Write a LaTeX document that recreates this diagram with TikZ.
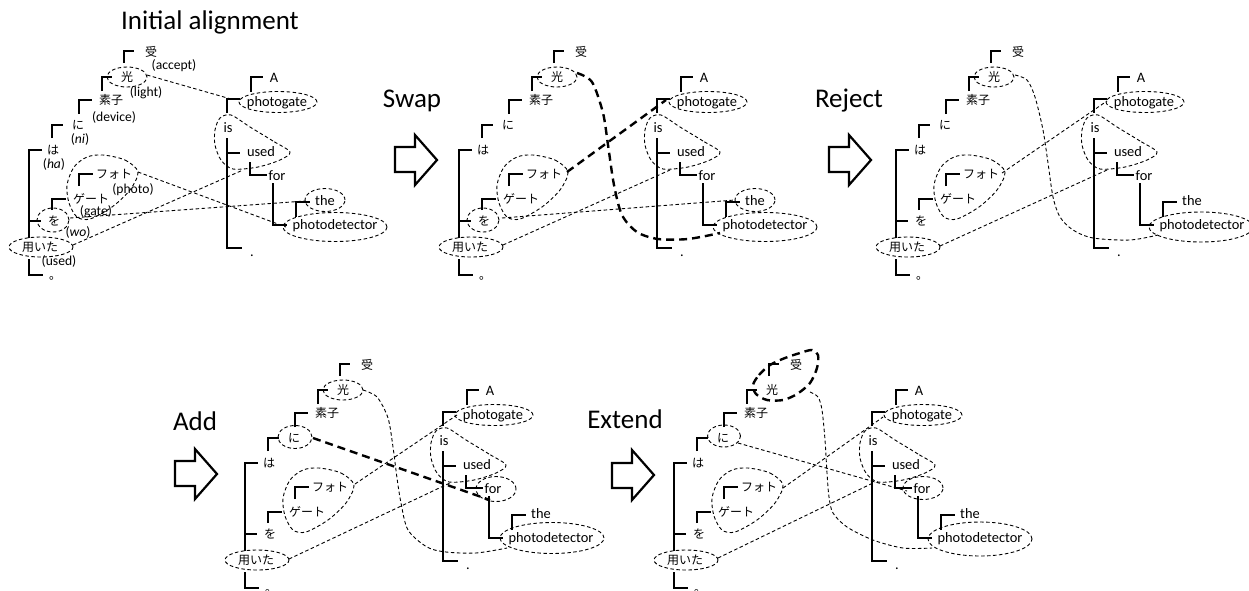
\documentclass[tikz,border=0pt]{standalone}
\usepackage{fontspec}
\setmainfont{Carlito}
\newfontfamily\jp{Noto Sans CJK JP}
\usetikzlibrary{shapes.geometric}
\tikzset{
  br/.style={line width=2.3pt, line cap=butt, line join=miter},
  en/.style={inner sep=0pt, font=\fontsize{14.4}{16}\selectfont, text height=10pt, text depth=3pt},
  ja/.style={inner sep=0pt, font=\jp\fontsize{12}{14}\selectfont, text height=10.5pt, text depth=1.5pt},
  gl/.style={inner sep=0pt, font=\fontsize{13.6}{15}\selectfont, text height=9pt, text depth=2.5pt},
  ttl/.style={inner sep=0pt, font=\fontsize{27}{30}\selectfont, anchor=base},
  dl/.style={dash pattern=on 3.5pt off 2.5pt, line width=0.9pt},
  tdl/.style={dash pattern=on 8pt off 5pt, line width=2.4pt},
  de/.style={draw, dl, ellipse, inner sep=0pt},
  blk/.style={line width=2.2pt, fill=white, line join=miter},
}
\newcommand\alignTrees[1]{%
  \draw[br] (124,63) |- (134,51);
  \draw[br] (102,91) |- (112,77);
  \draw[br] (79,114) |- (92,100);
  \draw[br] (52,138) |- (63,125);
  \draw[br] (29,238) |- (42,150);
  \draw[br] (79,186) |- (93,174);
  \draw[br] (52,210) |- (66,199);
  \draw[br] (29,221) -- (41,221);
  \draw[br] (29,259) |- (43,275);
  \node[ja] (#1uke) at (151,52) {受};
  \node[ja] (#1hikari) at (127,77) {光};
  \node[ja] (#1soshi) at (111,100) {素子};
  \node[ja] (#1ni) at (78,125) {に};
  \node[ja] (#1ha) at (53,150) {は};
  \node[ja] (#1foto) at (114,174) {フォト};
  \node[ja] (#1geeto) at (91,199) {ゲート};
  \node[ja] (#1wo) at (54,221) {を};
  \node[ja] (#1mochiita) at (40,247) {用いた};
  \node[ja, anchor=base west, text height=3pt, text depth=1pt] (#1maru) at (49,279) {。};
  \draw[br] (251,92) |- (263,77);
  \draw[br] (227,113) |- (240,99);
  \draw[br] (227,138) |- (242,248);
  \draw[br] (227,153) -- (240,153);
  \draw[br] (250,162) |- (267,175);
  \draw[br] (273,183) |- (287,225);
  \draw[br] (296,217) |- (310,202);
  \node[en] (#1a) at (274,79) {A};
  \node[en] (#1photogate) at (277,103) {photogate};
  \node[en] (#1is) at (228,129) {is};
  \node[en] (#1used) at (261,153) {used};
  \node[en] (#1for) at (277,177) {for};
  \node[en] (#1the) at (325,202) {the};
  \node[en] (#1photodet) at (335,226) {photodetector};
  \node[en, anchor=base, text height=2pt, text depth=0pt] (#1dot) at (252,256) {.};
}
\newcommand\isusedTD{\draw[dl] plot[smooth cycle] coordinates {(290,152) (273,141) (250,127) (231,115) (220,118) (215,130) (215,145) (221,160) (233,169) (258,167) (280,160)};}
\newcommand\fotoTD{\draw[dl] plot[smooth cycle] coordinates {(103,155) (125,160) (138,172) (130,190) (112,207) (90,219) (77,217) (69,203) (67,185) (74,167) (87,157)};}
\begin{document}
\begin{tikzpicture}[x=1pt, y=-1pt]
\useasboundingbox (0,0) rectangle (1249,590);

% titles
\node[ttl] (tInit) at (210,29) {Initial alignment};
\node[ttl] (tSwap) at (412,107) {Swap};
\node[ttl] (tReject) at (849,107) {Reject};
\node[ttl] (tAdd) at (195,430) {Add};
\node[ttl] (tExtend) at (625,428) {Extend};

% block arrows
\draw[blk] (395,147) -- (415,147) -- (415,135) -- (437,160) -- (415,185) -- (415,172) -- (395,172) -- cycle;
\draw[blk] (829,147) -- (849,147) -- (849,135) -- (871,160) -- (849,185) -- (849,172) -- (829,172) -- cycle;
\draw[blk] (175,461) -- (195,461) -- (195,449) -- (217,474) -- (195,499) -- (195,486) -- (175,486) -- cycle;
\draw[blk] (612,463) -- (632,463) -- (632,450) -- (654,475) -- (632,500) -- (632,488) -- (612,488) -- cycle;

% ---------- Panel 1: initial alignment ----------
\begin{scope}
  \alignTrees{p1}
  \node[gl] (p1g1) at (174,66) {(accept)};
  \node[gl] (p1g2) at (146,93) {(light)};
  \node[gl] (p1g3) at (114,118) {(device)};
  \node[gl] (p1g4) at (80,140) {(\textit{ni})};
  \node[gl] (p1g5) at (54,165) {(\textit{ha})};
  \node[gl] (p1g6) at (133,190) {(photo)};
  \node[gl] (p1g7) at (96,212) {(gate)};
  \node[gl] (p1g8) at (78,233) {(\textit{wo})};
  \node[gl] (p1g9) at (59,262.5) {(used)};
  \node[de, minimum width=40pt, minimum height=20pt] (p1eHik) at (127,77) {};
  \node[de, minimum width=78pt, minimum height=21pt] (p1ePg) at (278,102) {};
  \node[de, minimum width=32pt, minimum height=24pt] (p1eWo) at (53,220) {};
  \node[de, minimum width=64pt, minimum height=20pt] (p1eMo) at (41,247) {};
  \node[de, minimum width=40pt, minimum height=23pt] (p1eThe) at (325,200) {};
  \node[de, minimum width=104pt, minimum height=29pt] (p1ePd) at (335,227) {};
  \isusedTD
  \fotoTD
  \coordinate (p1a1) at (147,75);  \coordinate (p1a2) at (231,99);
  \coordinate (p1b1) at (138,172); \coordinate (p1b2) at (286,227);
  \coordinate (p1c1) at (70,218);  \coordinate (p1c2) at (305,201);
  \coordinate (p1d1) at (73,245);  \coordinate (p1d2) at (243,170);
  \draw[dl] (p1a1) -- (p1a2);
  \draw[dl] (p1b1) -- (p1b2);
  \draw[dl] (p1c1) -- (p1c2);
  \draw[dl] (p1d1) -- (p1d2);
\end{scope}

% ---------- Panel 2: swap ----------
\begin{scope}[shift={(430,0)}]
  \alignTrees{p2}
  \node[de, minimum width=40pt, minimum height=20pt] (p2eHik) at (127,77) {};
  \node[de, minimum width=78pt, minimum height=21pt] (p2ePg) at (278,102) {};
  \node[de, minimum width=32pt, minimum height=24pt] (p2eWo) at (53,220) {};
  \node[de, minimum width=64pt, minimum height=20pt] (p2eMo) at (41,247) {};
  \node[de, minimum width=40pt, minimum height=23pt] (p2eThe) at (325,200) {};
  \node[de, minimum width=104pt, minimum height=29pt] (p2ePd) at (335,227) {};
  \isusedTD
  \fotoTD
  \coordinate (p2a1) at (137,172); \coordinate (p2a2) at (236,100);
  \coordinate (p2b1) at (147,73);  \coordinate (p2b2) at (290,233);
  \coordinate (p2c1) at (72,218);  \coordinate (p2c2) at (305,200);
  \coordinate (p2d1) at (73,245);  \coordinate (p2d2) at (240,170);
  \draw[tdl] (p2a1) -- (p2a2);
  \draw[tdl] plot[smooth] coordinates {(p2b1) (162,82) (173,113) (178,145) (184,185) (192,215) (207,232) (228,239) (258,239) (p2b2)};
  \draw[dl] (p2c1) -- (p2c2);
  \draw[dl] (p2d1) -- (p2d2);
\end{scope}

% ---------- Panel 3: reject ----------
\begin{scope}[shift={(867,0)}]
  \alignTrees{p3}
  \node[de, minimum width=40pt, minimum height=20pt] (p3eHik) at (127,77) {};
  \node[de, minimum width=78pt, minimum height=21pt] (p3ePg) at (278,102) {};
  \node[de, minimum width=64pt, minimum height=20pt] (p3eMo) at (41,247) {};
  \node[de, minimum width=104pt, minimum height=30pt] (p3ePd) at (334,227) {};
  \isusedTD
  \fotoTD
  \coordinate (p3a1) at (135,173); \coordinate (p3a2) at (240,101);
  \coordinate (p3b1) at (148,75);  \coordinate (p3b2) at (291,235);
  \coordinate (p3d1) at (73,246);  \coordinate (p3d2) at (240,170);
  \draw[dl] (p3a1) -- (p3a2);
  \draw[dl] plot[smooth] coordinates {(p3b1) (160,80) (168,97) (176,130) (181,163) (186,197) (193,217) (206,230) (226,238) (263,240) (p3b2)};
  \draw[dl] (p3d1) -- (p3d2);
\end{scope}

% ---------- Panel 4: add ----------
\begin{scope}[shift={(216,313)}]
  \alignTrees{p4}
  \node[de, minimum width=40pt, minimum height=20pt] (p4eHik) at (127,77) {};
  \node[de, minimum width=34pt, minimum height=23pt] (p4eNi) at (79,124) {};
  \node[de, minimum width=78pt, minimum height=21pt] (p4ePg) at (278,102) {};
  \node[de, minimum width=40pt, minimum height=25pt] (p4eFor) at (280,176) {};
  \node[de, minimum width=64pt, minimum height=20pt] (p4eMo) at (41,247) {};
  \node[de, minimum width=104pt, minimum height=31pt] (p4ePd) at (336,225) {};
  \isusedTD
  \fotoTD
  \coordinate (p4n1) at (97,125);  \coordinate (p4n2) at (274,187);
  \coordinate (p4a1) at (139,171); \coordinate (p4a2) at (241,102);
  \coordinate (p4b1) at (147,77);  \coordinate (p4b2) at (291,235);
  \coordinate (p4d1) at (73,246);  \coordinate (p4d2) at (236,169);
  \draw[tdl] (p4n1) -- (p4n2);
  \draw[dl] (p4a1) -- (p4a2);
  \draw[dl] plot[smooth] coordinates {(p4b1) (161,84) (172,105) (177,134) (181,165) (185,190) (192,217) (211,234) (230,239) (260,240) (p4b2)};
  \draw[dl] (p4d1) -- (p4d2);
\end{scope}

% ---------- Panel 5: extend ----------
\begin{scope}[shift={(645,313)}]
  \alignTrees{p5}
  \draw[tdl] plot[smooth cycle] coordinates {(108,72) (114,62) (125,52) (140,45) (155,40) (167,37) (173,42) (172,55) (165,70) (152,81) (138,87) (122,87) (111,81)};
  \node[de, minimum width=33pt, minimum height=22pt] (p5eNi) at (79,123) {};
  \node[de, minimum width=78pt, minimum height=21pt] (p5ePg) at (278,102) {};
  \node[de, minimum width=40pt, minimum height=23pt] (p5eFor) at (278,175) {};
  \node[de, minimum width=64pt, minimum height=20pt] (p5eMo) at (41,247) {};
  \node[de, minimum width=104pt, minimum height=34pt] (p5ePd) at (335,226) {};
  \isusedTD
  \fotoTD
  \coordinate (p5n1) at (93,130);  \coordinate (p5n2) at (262,178);
  \coordinate (p5a1) at (138,175); \coordinate (p5a2) at (238,104);
  \coordinate (p5b1) at (165,79);  \coordinate (p5b2) at (287,235);
  \coordinate (p5d1) at (73,245);  \coordinate (p5d2) at (230,169);
  \draw[dl] (p5n1) -- (p5n2);
  \draw[dl] (p5a1) -- (p5a2);
  \draw[dl] plot[smooth] coordinates {(p5b1) (173,84) (177,97) (180,127) (182,160) (184,184) (188,200) (202,214) (228,227) (258,235) (p5b2)};
  \draw[dl] (p5d1) -- (p5d2);
\end{scope}
\end{tikzpicture}
\end{document}
